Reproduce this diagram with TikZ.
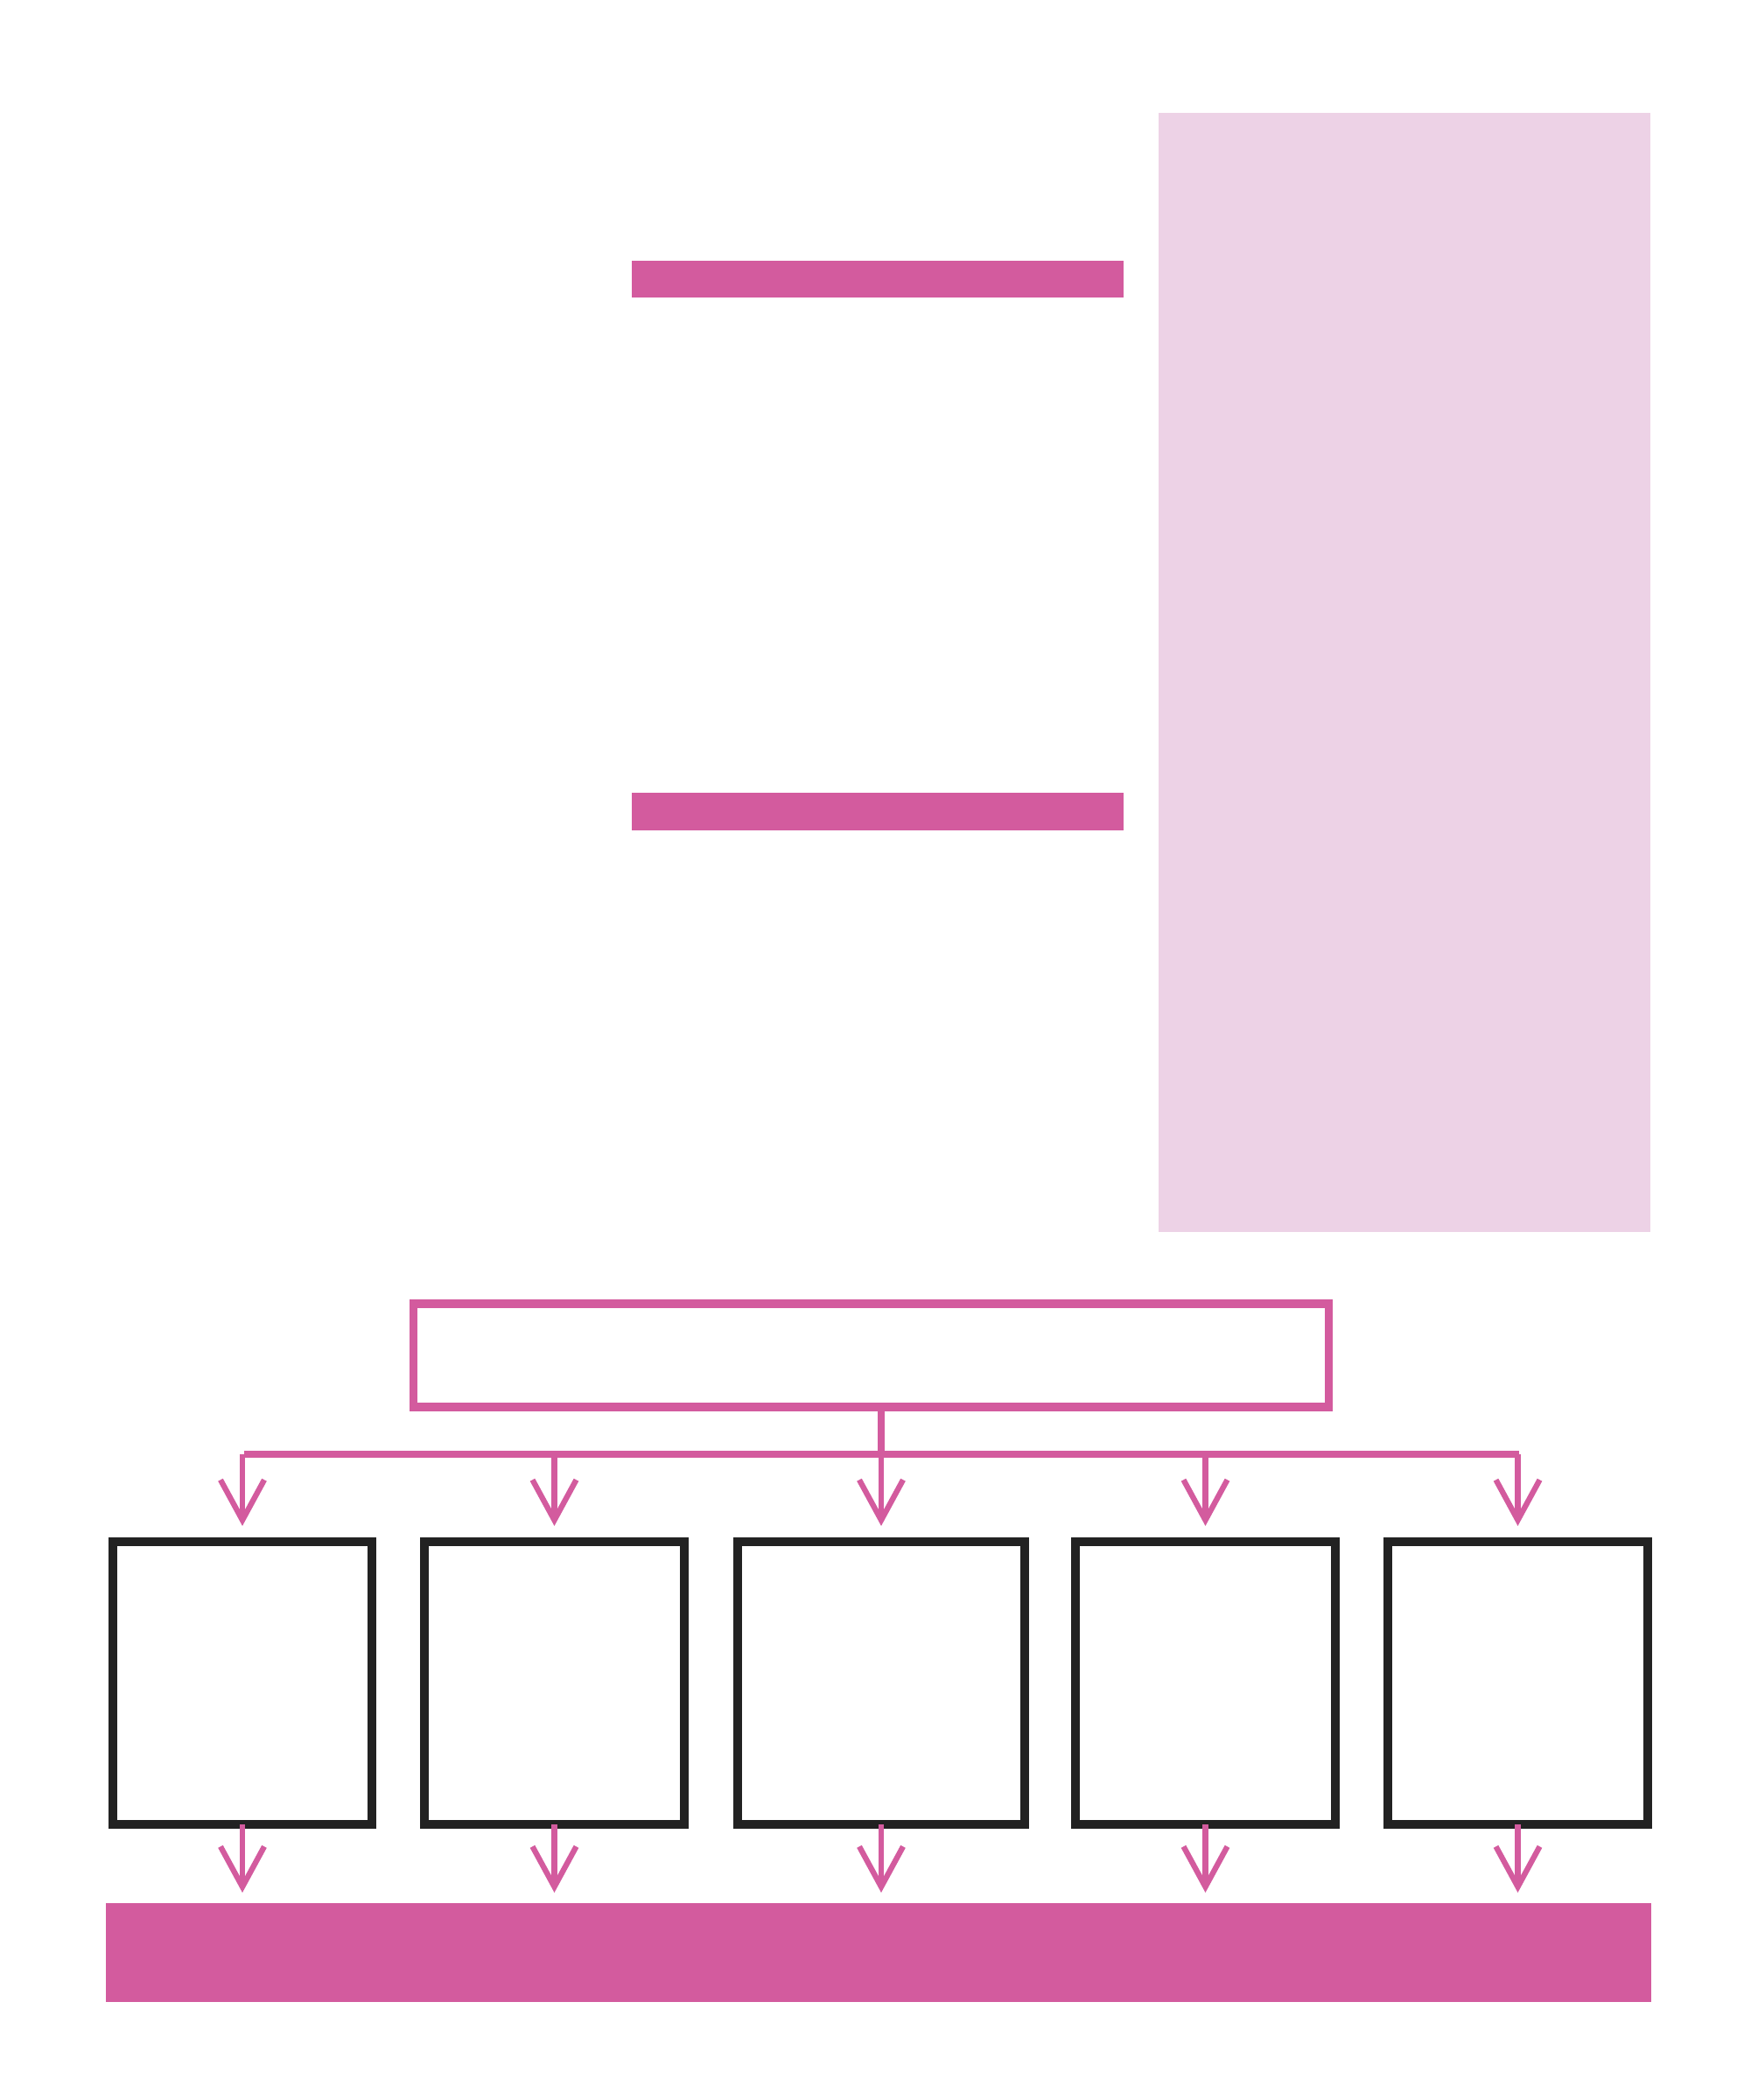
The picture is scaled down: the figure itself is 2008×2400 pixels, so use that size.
\documentclass[tikz,border=0pt]{standalone}
\usepackage{tikz}
\usetikzlibrary{arrows.meta,positioning,shapes}

\definecolor{pinkd}{HTML}{D35B9E}
\definecolor{pinkl}{HTML}{EDD2E6}
\definecolor{inkk}{HTML}{222222}

\begin{document}
\begin{tikzpicture}[x=0.01cm,y=-0.01cm,
  blk/.style={rectangle,inner sep=0pt,outer sep=0pt},
  stepbox/.style={blk,draw=inkk,line width=2.8pt,minimum height=3.23cm},
  link/.style={pinkd,line width=2.4pt},
  arr/.style={pinkd,line width=1.8pt,-{Straight Barb[length=4.6mm,width=5mm,line width=1.8pt]}}]
\useasboundingbox (0,0) rectangle (2008,2400);
\node[blk,fill=pinkl,minimum width=5.62cm,minimum height=12.79cm] (panel) at (1605,768.5) {};
\node[blk,fill=pinkd,minimum width=5.62cm,minimum height=0.42cm] (bar1) at (1003,319) {};
\node[blk,fill=pinkd,minimum width=5.62cm,minimum height=0.43cm] (bar2) at (1003,927.5) {};
\node[blk,draw=pinkd,line width=2.6pt,minimum width=10.46cm,minimum height=1.18cm] (top) at (995.5,1549) {};
\node[stepbox,minimum width=2.96cm] (b1) at (277,1923.5) {};
\node[stepbox,minimum width=2.97cm] (b2) at (633.5,1923.5) {};
\node[stepbox,minimum width=3.28cm] (b3) at (1007,1923.5) {};
\node[stepbox,minimum width=2.97cm] (b4) at (1377.5,1923.5) {};
\node[stepbox,minimum width=2.97cm] (b5) at (1734.5,1923.5) {};
\node[blk,fill=pinkd,minimum width=17.64cm,minimum height=1.13cm] (base) at (1004,2231.5) {};
\coordinate (busl) at (279,1662);
\coordinate (busr) at (1736,1662);
% fan out
\draw[link] (busl) -- (busr);
\draw[link] (top.south -| b3) -- (b3 |- busl);
\draw[arr,shorten >=0.18cm] (b1 |- busl) -- (b1.north);
\draw[arr,shorten >=0.18cm] (b2 |- busl) -- (b2.north);
\draw[arr,shorten >=0.18cm] (b3 |- busl) -- (b3.north);
\draw[arr,shorten >=0.18cm] (b4 |- busl) -- (b4.north);
\draw[arr,shorten >=0.18cm] (b5 |- busl) -- (b5.north);
% into the base
\draw[arr,shorten >=0.12cm] (b1.south) -- (b1 |- base.north);
\draw[arr,shorten >=0.12cm] (b2.south) -- (b2 |- base.north);
\draw[arr,shorten >=0.12cm] (b3.south) -- (b3 |- base.north);
\draw[arr,shorten >=0.12cm] (b4.south) -- (b4 |- base.north);
\draw[arr,shorten >=0.12cm] (b5.south) -- (b5 |- base.north);
\end{tikzpicture}
\end{document}
